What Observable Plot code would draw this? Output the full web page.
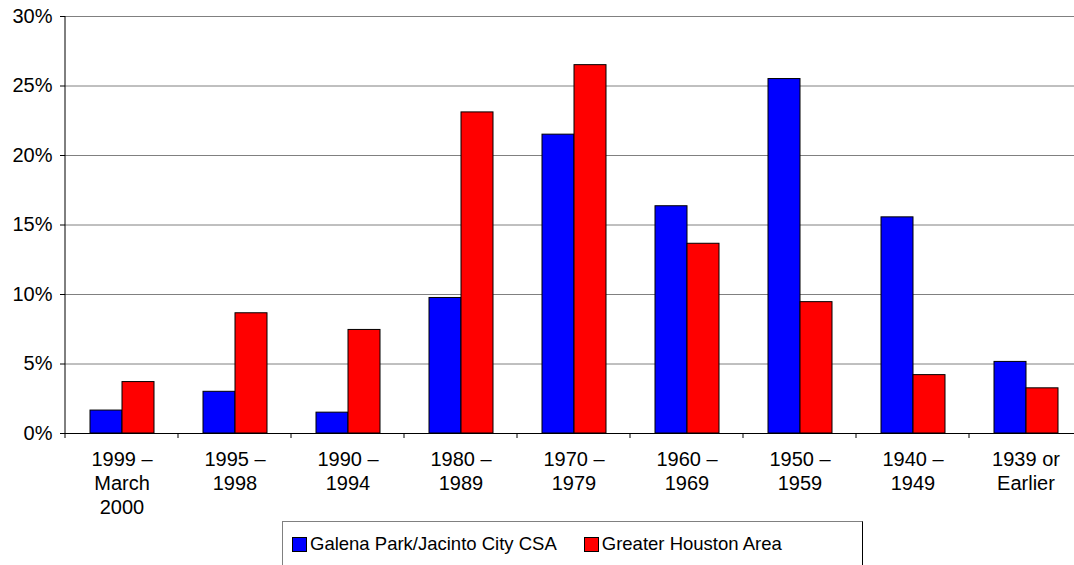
<!DOCTYPE html>
<html>
<head>
<meta charset="utf-8">
<script src="https://cdn.jsdelivr.net/npm/d3@7"></script>
<script src="https://cdn.jsdelivr.net/npm/@observablehq/plot@0.6"></script>
<style>
  body { margin: 0; background: #fff; font-family: "Liberation Sans", Arial, sans-serif; }
  #wrap { width: 1074px; height: 565px; overflow: hidden; position: relative; }
  #chart svg { display: block; max-width: none; }
  #legend {
    position: absolute; left: 282px; top: 521px; width: 581px; height: 70px;
    box-sizing: border-box; border: 1px solid #808080; border-right-color: #000;
    background: #fff; font-size: 18.5px; color: #000;
  }
  #legend .row { display: flex; align-items: center; height: 44px; padding-left: 9px; }
  #legend .sw { width: 13px; height: 13px; border: 1px solid #000; margin-right: 3px; }
  #legend .item { display: flex; align-items: center; margin-right: 27px; }
</style>
</head>
<body>
<div id="wrap">
  <div id="chart"></div>
  <div id="legend"></div>
</div>
<script>
const categories = [
  "1999 –\nMarch\n2000", "1995 –\n1998", "1990 –\n1994", "1980 –\n1989", "1970 –\n1979",
  "1960 –\n1969", "1950 –\n1959", "1940 –\n1949", "1939 or\nEarlier"
];
const series = ["Galena Park/Jacinto City CSA", "Greater Houston Area"];
const galenaValues  = [1.65, 3.0, 1.5, 9.75, 21.5, 16.35, 25.5, 15.55, 5.15];
const houstonValues = [3.7, 8.65, 7.45, 23.1, 26.5, 13.65, 9.45, 4.2, 3.25];
const colors = ["#0000ff", "#ff0000"];
const yTicks = [0, 5, 10, 15, 20, 25, 30];

const data = [];
categories.forEach((c, i) => {
  data.push({period: c, series: series[0], value: galenaValues[i]});
  data.push({period: c, series: series[1], value: houstonValues[i]});
});

const chart = Plot.plot({
  width: 1084,
  height: 518,
  marginLeft: 63,
  marginRight: 0,
  marginTop: 16,
  marginBottom: 85,
  style: {fontFamily: '"Liberation Sans", Arial, sans-serif', fontSize: "20px", background: "#fff", color: "#000"},
  fx: {domain: categories, padding: 0, label: null},
  x: {domain: series, paddingInner: 0, paddingOuter: 0.734, axis: null},
  y: {domain: [0, 30], label: null},
  color: {domain: series, range: colors},
  marks: [
    Plot.gridY(yTicks, {stroke: "#808080", strokeOpacity: 1, strokeWidth: 1}),
    Plot.barY(data, {fx: "period", x: "series", y: "value", fill: "series", stroke: "#000", strokeWidth: 1, inset: 0}),
    Plot.ruleY([0], {stroke: "#000", strokeWidth: 1}),
    Plot.axisY(yTicks, {tickFormat: d => d + "%", tickSize: 5, tickPadding: 8, fontSize: 20, label: null, stroke: "#000"}),
    Plot.axisFx({anchor: "bottom", tickSize: 0, tickPadding: 15, fontSize: 20, lineHeight: 1.2, label: null})
  ]
});

document.getElementById("chart").appendChild(chart);

// axis line and group-boundary ticks from the library's scales
const fx = chart.scale("fx");
const y = chart.scale("y");
const svg = d3.select(chart);
const x0 = fx.apply(categories[0]);
const yTop = y.apply(30), yBase = y.apply(0);
const g = svg.append("g").attr("stroke", "#000").attr("stroke-width", 1);
g.append("line").attr("x1", x0).attr("x2", x0).attr("y1", yTop).attr("y2", yBase);
const bounds = categories.map(c => fx.apply(c)).concat([fx.apply(categories[categories.length - 1]) + fx.bandwidth]);
bounds.forEach(b => {
  g.append("line").attr("x1", b).attr("x2", b).attr("y1", yBase).attr("y2", yBase + 5);
});

// legend
const legend = d3.select("#legend").append("div").attr("class", "row");
series.forEach((s, i) => {
  const it = legend.append("div").attr("class", "item");
  it.append("div").attr("class", "sw").style("background", colors[i]);
  it.append("span").text(s);
});
</script>
</body>
</html>
